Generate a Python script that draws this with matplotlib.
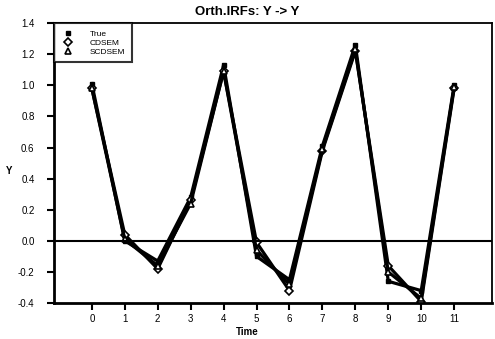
import matplotlib
matplotlib.use("Agg")
import matplotlib.pyplot as plt

plt.rcParams['font.family'] = ['Liberation Sans', 'DejaVu Sans']

# Orthogonalised impulse responses of Y to a Y shock
time = list(range(12))
true_irf = [1.01, 0.00, -0.13, 0.28, 1.13, -0.10, -0.25, 0.61, 1.26, -0.26, -0.32, 1.00]
cdsem_irf = [0.98, 0.04, -0.18, 0.26, 1.09, -0.01, -0.32, 0.58, 1.22, -0.16, -0.39, 0.98]
scdsem_irf = [0.98, 0.01, -0.16, 0.24, 1.09, -0.06, -0.28, 0.59, 1.23, -0.20, -0.37, 0.99]

fig = plt.figure(figsize=(4.95, 3.39), dpi=100)
ax = fig.add_axes([0.109, 0.106, 0.885, 0.826])

ax.plot(time, true_irf, color='black', lw=2.3, marker='s', ms=3,
        mfc='black', mec='black', label='True')
ax.plot(time, cdsem_irf, color='black', lw=2.3, marker='D', ms=4,
        mfc='white', mec='black', mew=1.2, label='CDSEM')
ax.plot(time, scdsem_irf, color='black', lw=2.3, marker='^', ms=4.5,
        mfc='white', mec='black', mew=1.2, label='SCDSEM')

ax.axhline(0, color='black', lw=1.5)

ax.set_xlim(-1.15, 12.15)
ax.set_ylim(-0.4, 1.4)
ax.set_xticks(time)
ax.set_yticks([-0.4, -0.2, 0.0, 0.2, 0.4, 0.6, 0.8, 1.0, 1.2, 1.4])
ax.set_yticklabels(['%.1f' % v for v in ax.get_yticks()])
ax.tick_params(axis='both', labelsize=7, width=1.5, length=5, direction='out')
ax.tick_params(axis='y', pad=9)
ax.tick_params(axis='x', pad=3)

for side in ['left', 'bottom']:
    ax.spines[side].set_linewidth(2)
for side in ['top', 'right']:
    ax.spines[side].set_linewidth(1.3)

fig.text(0.5, 1 - 12 / 339, 'Orth.IRFs: Y -> Y', fontsize=9.5, fontweight='bold',
         ha='center', va='center')
fig.text(0.5, 1 - 332 / 339, 'Time', fontsize=7, fontweight='bold',
         ha='center', va='center')
fig.text(9 / 495, 1 - 171 / 339, 'Y', fontsize=7, fontweight='bold',
         ha='center', va='center')

leg = ax.legend(loc='upper left', fontsize=6, frameon=True, fancybox=False,
                borderaxespad=0, handlelength=1.8, handletextpad=1.7,
                labelspacing=0.15, borderpad=0.8)
leg.get_frame().set_edgecolor('black')
leg.get_frame().set_linewidth(1.5)
for h in leg.get_lines():
    h.set_linestyle('none')

fig.savefig('out.png', dpi=100)
